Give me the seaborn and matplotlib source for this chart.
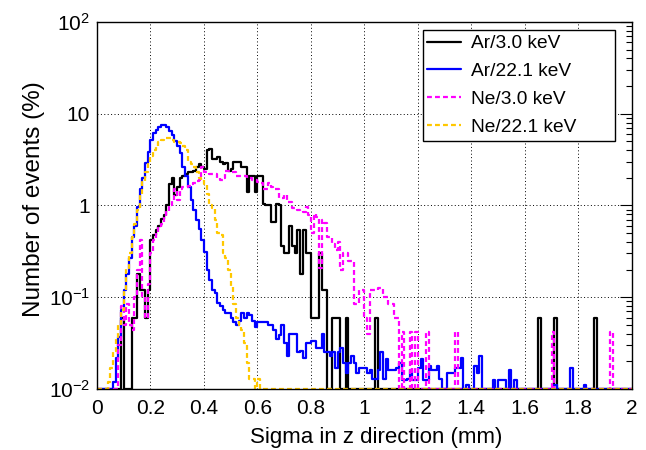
import numpy as np
import pandas as pd
import seaborn as sns
import matplotlib.pyplot as plt
from matplotlib.lines import Line2D
from matplotlib.ticker import MultipleLocator, LogLocator, NullFormatter

# histogram contents in %, 200 bins of 0.01 mm between 0 and 2 mm
AR_3KEV = [
    0, 0, 0, 0, 0, 0, 0, 0, 0, 0.06,
    0, 0, 0, 0.06, 0.06, 0.18, 0.12, 0.12, 0.06, 0.12,
    0.42, 0.48, 0.54, 0.6, 0.72, 0.78, 1.0, 1.7, 2.0, 1.3,
    1.6, 2.0, 2.1, 2.2, 2.3, 2.3, 2.4, 2.6, 2.8, 2.6,
    2.5, 4.0, 4.1, 3.2, 3.2, 3.4, 3.0, 2.8, 2.9, 2.4,
    2.5, 3.0, 3.0, 3.0, 2.6, 2.6, 1.4, 2.1, 2.1, 1.4,
    2.1, 2.1, 1.05, 1.0, 1.0, 0.66, 0.66, 1.05, 1.0, 0.36,
    0.3, 0.3, 0.6, 0.36, 0.3, 0.54, 0.18, 0.54, 0.3, 0.3,
    0.06, 0.06, 0.06, 0.3, 0.12, 0.12, 0, 0, 0.06, 0.06,
    0.06, 0, 0, 0.06, 0, 0, 0, 0, 0, 0,
    0, 0, 0, 0, 0.06, 0, 0, 0, 0, 0,
    0, 0, 0, 0, 0, 0, 0, 0, 0, 0,
    0, 0, 0, 0, 0, 0, 0, 0, 0, 0,
    0, 0, 0, 0, 0, 0, 0, 0, 0, 0,
    0, 0, 0, 0, 0, 0, 0, 0, 0, 0,
    0, 0, 0, 0, 0, 0, 0, 0, 0, 0,
    0, 0, 0, 0, 0, 0.06, 0, 0, 0, 0,
    0, 0.06, 0, 0, 0, 0, 0, 0, 0, 0,
    0, 0, 0, 0, 0, 0, 0.06, 0, 0, 0,
    0, 0, 0, 0, 0, 0, 0, 0, 0, 0,
]
AR_22KEV = [
    0, 0, 0, 0, 0, 0, 0.012, 0.022, 0.037, 0.073,
    0.12, 0.18, 0.27, 0.45, 0.6, 0.96, 1.5, 2.0, 2.9, 3.8,
    5.2, 6.1, 6.6, 7.1, 7.5, 7.5, 7.2, 6.5, 5.8, 5.0,
    4.4, 3.7, 2.6, 2.1, 1.6, 1.15, 0.9, 0.7, 0.55, 0.42,
    0.31, 0.2, 0.154, 0.12, 0.11, 0.087, 0.08, 0.073, 0.067, 0.067,
    0.06, 0.054, 0.05, 0.055, 0.068, 0.06, 0.068, 0.064, 0.055, 0.047,
    0.054, 0.054, 0.054, 0.054, 0.05, 0.05, 0.044, 0.035, 0.039, 0.05,
    0.032, 0.023, 0.04, 0.04, 0.04, 0.025, 0.026, 0.022, 0.032, 0.032,
    0.033, 0.033, 0.028, 0.028, 0.04, 0.025, 0.025, 0.023, 0.025, 0.017,
    0.025, 0.028, 0.019, 0.015, 0.019, 0.023, 0.019, 0.015, 0.017, 0.017,
    0.017, 0.015, 0.016, 0.013, 0.013, 0.016, 0.025, 0.013, 0.021, 0.016,
    0.016, 0.016, 0.017, 0.019, 0.0125, 0.0125, 0.013, 0.016, 0.0125, 0.0125,
    0.017, 0.021, 0.0125, 0.0125, 0.018, 0.016, 0.016, 0.018, 0.013, 0,
    0, 0.015, 0.015, 0.015, 0.017, 0.017, 0.022, 0, 0.011, 0,
    0, 0.018, 0.015, 0.023, 0, 0, 0, 0, 0.0125, 0,
    0.0125, 0.0125, 0.0125, 0, 0.016, 0, 0.0125, 0, 0, 0,
    0, 0, 0, 0, 0, 0, 0, 0, 0, 0,
    0, 0.011, 0, 0, 0, 0, 0, 0.017, 0, 0,
    0, 0, 0.011, 0, 0, 0, 0, 0, 0, 0,
    0, 0, 0, 0, 0, 0, 0, 0, 0, 0,
]
NE_3KEV = [
    0, 0, 0, 0, 0, 0, 0, 0, 0.03, 0.08,
    0.05, 0.085, 0.05, 0.044, 0.1, 0.2, 0.42, 0.1, 0.06, 0.14,
    0.3, 0.42, 0.5, 0.58, 0.63, 0.75, 0.88, 1.0, 1.15, 1.5,
    1.15, 1.5, 1.6, 1.6, 1.65, 1.7, 1.75, 1.85, 1.9, 2.6,
    2.3, 2.3, 2.2, 2.2, 2.2, 2.0, 1.9, 2.0, 2.4, 2.4,
    2.3, 2.3, 2.1, 2.1, 2.1, 2.1, 2.0, 2.0, 1.9, 1.9,
    1.8, 1.75, 1.5, 1.5, 1.75, 1.6, 1.5, 1.5, 1.2, 1.2,
    1.3, 1.1, 1.1, 0.95, 0.95, 0.9, 0.88, 0.85, 0.97, 0.78,
    0.5, 0.8, 0.75, 0.21, 0.7, 0.64, 0.45, 0.45, 0.38, 0.33,
    0.4, 0.2, 0.3, 0.3, 0.25, 0.25, 0.085, 0.085, 0.12, 0.12,
    0.06, 0.04, 0.12, 0.12, 0.12, 0.125, 0.125, 0.1, 0.1, 0.085,
    0.085, 0.06, 0.06, 0, 0.042, 0, 0, 0.042, 0, 0.042,
    0, 0, 0, 0.042, 0, 0, 0, 0, 0, 0,
    0, 0, 0, 0, 0.042, 0, 0, 0, 0, 0,
    0, 0, 0, 0, 0, 0, 0, 0, 0, 0,
    0, 0, 0, 0, 0, 0, 0, 0, 0, 0,
    0, 0, 0, 0, 0, 0, 0, 0, 0, 0,
    0.042, 0, 0, 0, 0, 0, 0, 0, 0, 0,
    0, 0, 0, 0, 0, 0, 0, 0, 0, 0,
    0, 0, 0.042, 0, 0, 0, 0, 0, 0, 0,
]
NE_22KEV = [
    0, 0, 0, 0, 0.012, 0.017, 0.026, 0.037, 0.05, 0.073,
    0.12, 0.21, 0.3, 0.45, 0.63, 0.9, 1.3, 1.8, 2.3, 2.9,
    3.5, 4.0, 4.4, 4.9, 5.2, 5.4, 5.4, 5.4, 5.2, 4.9,
    4.9, 4.8, 4.4, 4.0, 3.0, 2.8, 2.6, 2.3, 2.0, 1.9,
    1.7, 1.35, 1.0, 0.94, 0.7, 0.5, 0.48, 0.3, 0.27, 0.2,
    0.13, 0.085, 0.06, 0.05, 0.044, 0.032, 0.019, 0.013, 0.013, 0,
    0.013, 0, 0, 0, 0, 0, 0, 0, 0, 0,
    0, 0, 0, 0, 0, 0, 0, 0, 0, 0,
    0, 0, 0, 0, 0, 0, 0, 0, 0, 0,
    0, 0, 0, 0, 0, 0, 0, 0, 0, 0,
    0, 0, 0, 0, 0, 0, 0, 0, 0, 0,
    0, 0, 0, 0, 0, 0, 0, 0, 0, 0,
    0, 0, 0, 0, 0, 0, 0, 0, 0, 0,
    0, 0, 0, 0, 0, 0, 0, 0, 0, 0,
    0, 0, 0, 0, 0, 0, 0, 0, 0, 0,
    0, 0, 0, 0, 0, 0, 0, 0, 0, 0,
    0, 0, 0, 0, 0, 0, 0, 0, 0, 0,
    0, 0, 0, 0, 0, 0, 0, 0, 0, 0,
    0, 0, 0, 0, 0, 0, 0, 0, 0, 0,
    0, 0, 0, 0, 0, 0, 0, 0, 0, 0,
]

LABELS = ['Ar/3.0 keV', 'Ar/22.1 keV', 'Ne/3.0 keV', 'Ne/22.1 keV']
COLOURS = ['black', '#0000ff', '#ff00ff', '#ffc800']
DASHED = (0, (2.2, 1.4))
STYLES = ['-', '-', DASHED, DASHED]

X_TICKS = [0, 0.2, 0.4, 0.6, 0.8, 1.0, 1.2, 1.4, 1.6, 1.8, 2.0]
X_TICK_LABELS = ['0', '0.2', '0.4', '0.6', '0.8', '1', '1.2', '1.4', '1.6', '1.8', '2']
Y_TICKS = [0.01, 0.1, 1, 10, 100]
Y_TICK_LABELS = [r'$\mathregular{10^{-2}}$', r'$\mathregular{10^{-1}}$', '1', '10', r'$\mathregular{10^{2}}$']

sns.set_style('white')
plt.rcParams['font.family'] = ['Liberation Sans', 'DejaVu Sans']
plt.rcParams['text.color'] = 'black'
plt.rcParams['axes.labelcolor'] = 'black'

N_BINS = 200
SIGMA_RANGE = (0, 2)
Y_RANGE = (0.01, 100)
bin_width = (SIGMA_RANGE[1] - SIGMA_RANGE[0]) / N_BINS
centres = SIGMA_RANGE[0] + bin_width * (np.arange(N_BINS) + 0.5)

fig = plt.figure(figsize=(6.46, 4.5), dpi=100)
ax = fig.add_axes([0.150, 0.1356, 0.828, 0.8156])

for values, colour, style in zip([AR_3KEV, AR_22KEV, NE_3KEV, NE_22KEV], COLOURS, STYLES):
    # empty bins are drawn on the lower frame, like ROOT does on a log scale
    df = pd.DataFrame({'sigma_z': centres, 'percent': np.maximum(values, Y_RANGE[0])})
    sns.histplot(
        data=df, x='sigma_z', weights='percent', bins=N_BINS, binrange=SIGMA_RANGE,
        element='step', fill=False, color=colour, linewidth=1.6, linestyle=style, ax=ax,
    )

ax.set_yscale('log')
ax.set_xlim(*SIGMA_RANGE)
ax.set_ylim(*Y_RANGE)

ax.set_xticks(X_TICKS, labels=X_TICK_LABELS)
ax.xaxis.set_minor_locator(MultipleLocator(0.05))
ax.set_yticks(Y_TICKS, labels=Y_TICK_LABELS)
ax.yaxis.set_minor_locator(LogLocator(base=10, subs=np.arange(2, 10)))
ax.yaxis.set_minor_formatter(NullFormatter())

ax.tick_params(which='both', direction='in', right=True, top=False, colors='black', labelsize=15)
ax.tick_params(which='major', length=9, width=0.8)
ax.tick_params(which='minor', length=4.5, width=0.8)
ax.tick_params(axis='x', pad=7)
ax.tick_params(axis='y', pad=5)
ax.grid(True, which='major', color='black', linestyle=(0, (1, 2.5)), linewidth=0.7)
for spine in ax.spines.values():
    spine.set_color('black')
    spine.set_linewidth(1.0)

ax.set_xlabel('Sigma in z direction (mm)', fontsize=16)
ax.xaxis.set_label_coords(0.523, -0.104)
ax.set_ylabel('Number of events (%)', fontsize=17.5)
ax.yaxis.set_label_coords(-0.097, 0.518)

handles = [Line2D([], [], color=c, linestyle=s, linewidth=1.6) for c, s in zip(COLOURS, STYLES)]
leg = ax.legend(
    handles, LABELS, loc='upper left', bbox_to_anchor=(0.609, 0.681, 0.359, 0.297),
    mode='expand', borderaxespad=0, fontsize=13.8,
    frameon=True, fancybox=False, framealpha=1, edgecolor='black',
    handlelength=1.75, handletextpad=0.5, borderpad=0.25, labelspacing=0.55,
)
leg.get_frame().set_linewidth(1.0)

fig.savefig('out.png', dpi=100)
